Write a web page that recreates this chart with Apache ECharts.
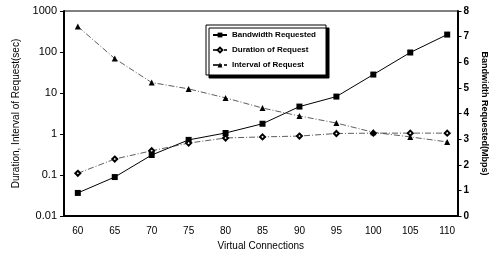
<!DOCTYPE html>
<html>
<head>
<meta charset="utf-8">
<script src="https://cdn.jsdelivr.net/npm/echarts@6/dist/echarts.min.js"></script>
<style>
  html, body { margin: 0; padding: 0; background: #fff; }
  #chart { width: 497px; height: 257px; }
</style>
</head>
<body>
<div id="chart"></div>
<script>
// virtual connections
var connections = [60, 65, 70, 75, 80, 85, 90, 95, 100, 105, 110];
// Mbps, right axis
var bandwidth = [0.9, 1.52, 2.38, 2.97, 3.24, 3.6, 4.27, 4.66, 5.52, 6.38, 7.08];
// sec, left log axis
var duration = [0.11, 0.245, 0.39, 0.6, 0.8, 0.85, 0.89, 1.03, 1.05, 1.05, 1.05];
var interval = [420, 69, 18, 12.6, 7.6, 4.3, 2.75, 1.85, 1.1, 0.85, 0.64];

var leftTicks = [0.01, 0.1, 1, 10, 100, 1000];

function pairs(ys) {
    return connections.map(function (x, i) { return [x, ys[i]]; });
}

var font = 'Liberation Sans, Arial, sans-serif';
var chart = echarts.init(document.getElementById('chart'), null, { renderer: 'canvas' });

var option = {
    animation: false,
    backgroundColor: '#fff',
    textStyle: { fontFamily: font, color: '#000' },
    grid: {
        left: 64, right: 34, top: 11, bottom: 41,
        show: true, borderColor: '#000', borderWidth: 1
    },
    legend: {
        orient: 'vertical',
        left: 206, top: 25,
        padding: [6, 10, 6, 6],
        itemGap: 7,
        itemWidth: 14, itemHeight: 6,
        backgroundColor: '#fff',
        borderColor: '#000', borderWidth: 1,
        shadowColor: '#000', shadowOffsetX: 3, shadowOffsetY: 3, shadowBlur: 0,
        textStyle: { fontSize: 8, fontWeight: 'bold', fontFamily: font, color: '#000' },
        data: ['Bandwidth Requested', 'Duration of Request', 'Interval of Request']
    },
    xAxis: {
        type: 'value',
        min: 58.13, max: 111.4,
        name: 'Virtual Connections',
        nameLocation: 'middle', nameGap: 23,
        nameTextStyle: { fontSize: 10, fontFamily: font, color: '#000' },
        axisLine: { lineStyle: { color: '#000', width: 2 } },
        axisTick: { show: false },
        splitLine: { show: false },
        axisLabel: {
            customValues: connections,
            fontSize: 10, color: '#000', margin: 10
        }
    },
    yAxis: [{
        type: 'log', logBase: 10,
        min: 0.01, max: 1000,
        name: 'Duration, Interval of Request(sec)',
        nameLocation: 'middle', nameGap: 42,
        nameTextStyle: { fontSize: 10, fontFamily: font, color: '#000' },
        axisLine: { show: true, lineStyle: { color: '#000', width: 2 } },
        axisTick: { show: true, length: 4, lineStyle: { color: '#000' } },
        minorTick: { show: false },
        splitLine: { show: false },
        axisLabel: {
            fontSize: 11, color: '#000', margin: 7,
            formatter: function (v) {
                var best = leftTicks.reduce(function (a, b) {
                    return Math.abs(Math.log10(b) - Math.log10(v)) < Math.abs(Math.log10(a) - Math.log10(v)) ? b : a;
                });
                return String(best);
            }
        }
    }, {
        type: 'value',
        min: 0, max: 8, interval: 1,
        position: 'right',
        name: 'Bandwidth Requested(Mbps)',
        nameLocation: 'middle', nameGap: 20, nameRotate: -90,
        nameTextStyle: { fontSize: 9, fontWeight: 'bold', fontFamily: font, color: '#000' },
        axisLine: { show: true, lineStyle: { color: '#000', width: 2 } },
        axisTick: { show: true, length: 4, lineStyle: { color: '#000' } },
        splitLine: { show: false },
        axisLabel: { fontSize: 10, fontWeight: 'bold', color: '#000', margin: 6 }
    }],
    series: [{
        name: 'Bandwidth Requested',
        type: 'line',
        yAxisIndex: 1,
        data: pairs(bandwidth),
        symbol: 'rect', symbolSize: 6,
        itemStyle: { color: '#000' },
        lineStyle: { color: '#000', width: 1 }
    }, {
        name: 'Duration of Request',
        type: 'line',
        yAxisIndex: 0,
        data: pairs(duration),
        symbol: 'emptyDiamond', symbolSize: 5,
        itemStyle: { color: '#000', borderWidth: 1 },
        lineStyle: { color: '#333', width: 0.8, type: [6, 2, 1, 2] }
    }, {
        name: 'Interval of Request',
        type: 'line',
        yAxisIndex: 0,
        data: pairs(interval),
        symbol: 'triangle', symbolSize: 6,
        itemStyle: { color: '#000' },
        lineStyle: { color: '#333', width: 0.8, type: [6, 2, 1, 2] }
    }]
};
chart.setOption(option);
</script>
</body>
</html>
